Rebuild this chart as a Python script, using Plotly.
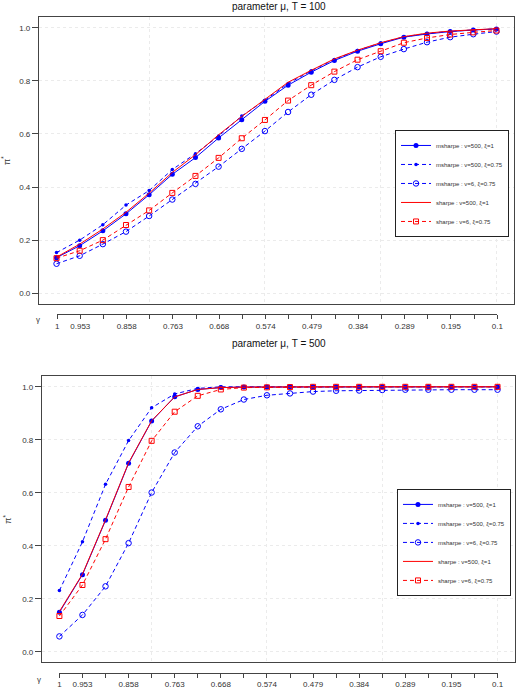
import plotly.graph_objects as go

W, H = 524, 689

# gamma grid (x categories) and tick labels
gamma_index = list(range(20))
gamma_label_pos = [0, 1, 3, 5, 7, 9, 11, 13, 15, 17, 19]
gamma_labels = ["1", "0.953", "0.858", "0.763", "0.668", "0.574",
                "0.479", "0.384", "0.289", "0.195", "0.1"]

series_names = ["msharpe : v=500, ξ=1", "msharpe : v=500, ξ=0.75", "msharpe : v=6, ξ=0.75",
                "sharpe : v=500, ξ=1", "sharpe : v=6, ξ=0.75"]

# top panel
top_msharpe_500_1 = [0.134, 0.179, 0.235, 0.299, 0.371, 0.448, 0.511, 0.585, 0.654, 0.723,
                     0.784, 0.833, 0.877, 0.912, 0.940, 0.965, 0.977, 0.986, 0.992, 0.996]
top_msharpe_500_075 = [0.153, 0.200, 0.258, 0.332, 0.387, 0.466, 0.526, 0.592, 0.668, 0.727,
                       0.790, 0.838, 0.881, 0.915, 0.943, 0.966, 0.979, 0.987, 0.992, 0.996]
top_msharpe_6_075 = [0.111, 0.141, 0.185, 0.232, 0.291, 0.353, 0.412, 0.477, 0.544, 0.611,
                     0.683, 0.748, 0.804, 0.852, 0.891, 0.920, 0.946, 0.965, 0.976, 0.986]
top_sharpe_500_1 = [0.136, 0.185, 0.242, 0.305, 0.377, 0.455, 0.522, 0.597, 0.666, 0.731,
                    0.795, 0.840, 0.883, 0.916, 0.944, 0.967, 0.980, 0.988, 0.993, 0.997]
top_sharpe_6_075 = [0.132, 0.160, 0.200, 0.257, 0.312, 0.378, 0.442, 0.510, 0.584, 0.653,
                    0.726, 0.784, 0.835, 0.880, 0.912, 0.944, 0.962, 0.975, 0.983, 0.990]

# bottom panel (T = 500)
bot_msharpe_500_1 = [0.149, 0.291, 0.496, 0.711, 0.871, 0.962, 0.990, 0.997, 0.999, 0.999,
                     1.0, 1.0, 1.0, 1.0, 1.0, 1.0, 1.0, 1.0, 1.0, 1.0]
bot_msharpe_500_075 = [0.231, 0.415, 0.632, 0.797, 0.921, 0.973, 0.994, 1.0, 1.0, 1.0,
                       1.0, 1.0, 1.0, 1.0, 1.0, 1.0, 1.0, 1.0, 1.0, 1.0]
bot_msharpe_6_075 = [0.058, 0.139, 0.247, 0.410, 0.601, 0.752, 0.851, 0.915, 0.952, 0.968,
                     0.975, 0.982, 0.985, 0.986, 0.988, 0.989, 0.989, 0.989, 0.989, 0.989]
bot_sharpe_500_1 = [0.152, 0.293, 0.498, 0.713, 0.872, 0.962, 0.990, 0.997, 0.999, 1.0,
                    1.0, 1.0, 1.0, 1.0, 1.0, 1.0, 1.0, 1.0, 1.0, 1.0]
bot_sharpe_6_075 = [0.135, 0.252, 0.425, 0.622, 0.796, 0.906, 0.966, 0.990, 0.997, 0.998,
                    0.999, 1.0, 1.0, 1.0, 1.0, 1.0, 1.0, 1.0, 1.0, 1.0]

y_ticks = [0.0, 0.2, 0.4, 0.6, 0.8, 1.0]
y_ticktext = ["0.0", "0.2", "0.4", "0.6", "0.8", "1.0"]

BLUE = "#0000ff"
RED = "#ff0000"
DASH = "4px,3px"

styles = [
    dict(mode="lines+markers", line=dict(color=BLUE, width=1),
         marker=dict(symbol="circle", size=5, color=BLUE)),
    dict(mode="lines+markers", line=dict(color=BLUE, width=1, dash=DASH),
         marker=dict(symbol="circle", size=3.5, color=BLUE)),
    dict(mode="lines+markers", line=dict(color=BLUE, width=1, dash=DASH),
         marker=dict(symbol="circle-open", size=5.5, color=BLUE, line=dict(width=1))),
    dict(mode="lines", line=dict(color=RED, width=1)),
    dict(mode="lines+markers", line=dict(color=RED, width=1, dash=DASH),
         marker=dict(symbol="square-open", size=5, color=RED, line=dict(width=1))),
]

fig = go.Figure()

top_data = [top_msharpe_500_1, top_msharpe_500_075, top_msharpe_6_075, top_sharpe_500_1, top_sharpe_6_075]
bot_data = [bot_msharpe_500_1, bot_msharpe_500_075, bot_msharpe_6_075, bot_sharpe_500_1, bot_sharpe_6_075]

for name, ys, st in zip(series_names, top_data, styles):
    fig.add_trace(go.Scatter(x=gamma_index, y=ys, name=name, xaxis="x", yaxis="y",
                             legend="legend", **st))
for name, ys, st in zip(series_names, bot_data, styles):
    fig.add_trace(go.Scatter(x=gamma_index, y=ys, name=name, xaxis="x2", yaxis="y2",
                             legend="legend2", **st))

# helper traces so the separate gamma axes are drawn
for xa, ya in (("x3", "y3"), ("x4", "y4")):
    fig.add_trace(go.Scatter(x=[gamma_index[0]], y=[0], xaxis=xa, yaxis=ya, mode="markers",
                             marker=dict(opacity=0), showlegend=False, hoverinfo="skip"))


def px_x(p):
    return p / W


def px_y(p):
    return 1 - p / H


GRID = "#ebebeb"
FRAME = "#444444"
TXT = "#333333"

main_x = dict(range=[-0.76, 19.76], tickvals=[4, 9, 14, 19], showticklabels=False, ticks="",
              showgrid=True, gridcolor=GRID, griddash="dot", gridwidth=1,
              showline=True, mirror=True, linecolor=FRAME, linewidth=1, zeroline=False)
main_y = dict(range=[-0.04, 1.04], tickvals=y_ticks, ticktext=y_ticktext, ticks="outside",
              ticklen=6, tickcolor=FRAME, tickfont=dict(size=8, color=TXT),
              showgrid=True, gridcolor=GRID, griddash="dot", gridwidth=1,
              showline=True, mirror=True, linecolor=FRAME, linewidth=1, zeroline=False,
              title=dict(text="π<sup>*</sup>", font=dict(size=9, color=TXT), standoff=8))
gamma_x = dict(range=[0, 19], tickvals=gamma_label_pos, ticktext=gamma_labels, ticks="outside",
               ticklen=4, tickcolor=FRAME, tickfont=dict(size=8, color=TXT),
               minor=dict(tick0=0, dtick=1, ticks="outside", ticklen=4, tickcolor=FRAME,
                          showgrid=False),
               showline=True, linecolor=FRAME, linewidth=1, showgrid=False, zeroline=False)

fig.update_layout(
    width=W, height=H,
    margin=dict(l=0, r=0, t=0, b=0),
    paper_bgcolor="white", plot_bgcolor="white",
    font=dict(family="Liberation Sans, Arial, sans-serif", color=TXT),
    xaxis=dict(domain=[px_x(37.5), px_x(520)], anchor="y", **main_x),
    yaxis=dict(domain=[px_y(304.7), px_y(17.3)], anchor="x", **main_y),
    xaxis2=dict(domain=[px_x(40.5), px_x(521)], anchor="y2", **main_x),
    yaxis2=dict(domain=[px_y(664.3), px_y(377.3)], anchor="x2", **main_y),
    xaxis3=dict(domain=[px_x(56), px_x(503)], anchor="y3", **gamma_x),
    yaxis3=dict(domain=[px_y(315), px_y(312)], anchor="x3", visible=False, range=[0, 1]),
    xaxis4=dict(domain=[px_x(58.3), px_x(503.3)], anchor="y4", **gamma_x),
    yaxis4=dict(domain=[px_y(674.7), px_y(671)], anchor="x4", visible=False, range=[0, 1]),
    showlegend=True,
    legend=dict(x=px_x(457), y=px_y(184), xanchor="center", yanchor="middle",
                bordercolor="#222", borderwidth=1, bgcolor="white",
                font=dict(size=6, color=TXT), itemwidth=30, tracegroupgap=0),
    legend2=dict(x=px_x(459), y=px_y(544), xanchor="center", yanchor="middle",
                 bordercolor="#222", borderwidth=1, bgcolor="white",
                 font=dict(size=6, color=TXT), itemwidth=30, tracegroupgap=0),
    annotations=[
        dict(text="parameter μ, T = 100", x=px_x(281), y=px_y(7), xref="paper", yref="paper",
             showarrow=False, font=dict(size=10, color="#111"), xanchor="center", yanchor="middle"),
        dict(text="parameter μ, T = 500", x=px_x(281), y=px_y(344), xref="paper", yref="paper",
             showarrow=False, font=dict(size=10, color="#111"), xanchor="center", yanchor="middle"),
        dict(text="γ", x=px_x(37), y=px_y(320), xref="paper", yref="paper",
             showarrow=False, font=dict(size=8, color=TXT), xanchor="center", yanchor="middle"),
        dict(text="γ", x=px_x(38), y=px_y(681), xref="paper", yref="paper",
             showarrow=False, font=dict(size=8, color=TXT), xanchor="center", yanchor="middle"),
    ],
)

fig.write_html("out.html")
